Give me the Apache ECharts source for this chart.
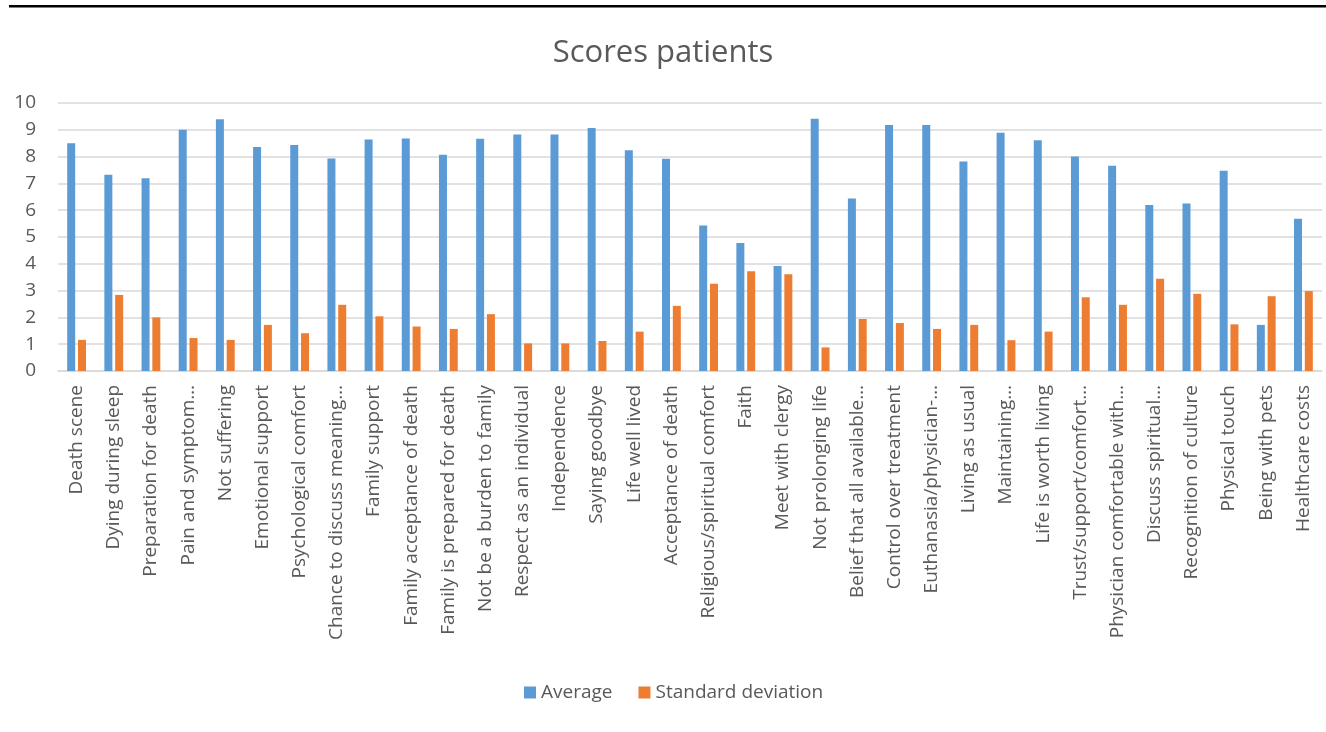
<!DOCTYPE html>
<html>
<head>
<meta charset="utf-8">
<script src="https://cdn.jsdelivr.net/npm/echarts@6/dist/echarts.min.js"></script>
<style>
html,body{margin:0;padding:0;background:#fff;}
#c{width:1326px;height:732px;}
</style>
</head>
<body>
<div id="c"></div>
<script>
const categories = [
  "Death scene","Dying during sleep","Preparation for death","Pain and symptom…","Not suffering",
  "Emotional support","Psychological comfort","Chance to discuss meaning…","Family support",
  "Family acceptance of death","Family is prepared for death","Not be a burden to family",
  "Respect as an individual","Independence","Saying goodbye","Life well lived","Acceptance of death",
  "Religious/spiritual comfort","Faith","Meet with clergy","Not prolonging life",
  "Belief that all available…","Control over treatment","Euthanasia/physician-…","Living as usual",
  "Maintaining…","Life is worth living","Trust/support/comfort…","Physician comfortable with…",
  "Discuss spiritual…","Recognition of culture","Physical touch","Being with pets","Healthcare costs"
];
const averageValues = [
  8.50, 7.32, 7.19, 9.00, 9.39, 8.36, 8.43, 7.93, 8.64, 8.68, 8.07, 8.67, 8.82, 8.82, 9.07, 8.24, 7.92,
  5.43, 4.78, 3.92, 9.41, 6.44, 9.18, 9.18, 7.82, 8.89, 8.61, 8.00, 7.66, 6.19, 6.25, 7.47, 1.72, 5.68
];
const stdDevValues = [
  1.16, 2.84, 2.00, 1.23, 1.16, 1.72, 1.41, 2.47, 2.04, 1.66, 1.57, 2.12, 1.03, 1.03, 1.12, 1.47, 2.43,
  3.26, 3.72, 3.61, 0.88, 1.94, 1.79, 1.57, 1.72, 1.15, 1.47, 2.75, 2.47, 3.44, 2.88, 1.74, 2.79, 2.98
];
const yTicks = [0,1,2,3,4,5,6,7,8,9,10];
const seriesNames = ["Average","Standard deviation"];

const chart = echarts.init(document.getElementById('c'), null, {renderer:'canvas'});
const font = "'Open Sans', 'Noto Sans', sans-serif";
chart.setOption({
  animation:false,
  backgroundColor:'#ffffff',
  textStyle:{fontFamily:font},
  title:{
    text:'Scores patients', left:'center', top:33,
    textStyle:{fontFamily:font, fontSize:31, fontWeight:'normal', color:'#595959'}
  },
  legend:{
    bottom:25, left:519, itemWidth:12, itemHeight:12, itemGap:26,
    icon:'rect',
    textStyle:{fontFamily:font, fontSize:19, color:'#595959'},
    data:seriesNames
  },
  graphic:[{
    type:'rect', left:9, top:5, shape:{width:1317, height:2.5},
    style:{fill:'#000000'}, silent:true
  }],
  grid:{left:58, right:4, top:103, bottom:361, containLabel:false},
  xAxis:{
    type:'category', data:categories,
    axisLine:{show:true, lineStyle:{color:'#d9d9d9', width:1.5}},
    axisTick:{show:false},
    axisLabel:{interval:0, rotate:90, margin:14, fontFamily:font, fontSize:19, color:'#595959'}
  },
  yAxis:{
    type:'value', min:yTicks[0], max:yTicks[yTicks.length-1], interval:1,
    axisLine:{show:false}, axisTick:{show:false},
    splitLine:{lineStyle:{color:'#d9d9d9', width:1.5}},
    axisLabel:{margin:22, fontFamily:font, fontSize:19, color:'#595959'}
  },
  series:[
    {name:seriesNames[0], type:'bar', data:averageValues, barWidth:8, barGap:'35%',
     itemStyle:{color:'#5B9BD5'}},
    {name:seriesNames[1], type:'bar', data:stdDevValues, barWidth:8, barGap:'35%',
     itemStyle:{color:'#ED7D31'}}
  ]
});
</script>
</body>
</html>
